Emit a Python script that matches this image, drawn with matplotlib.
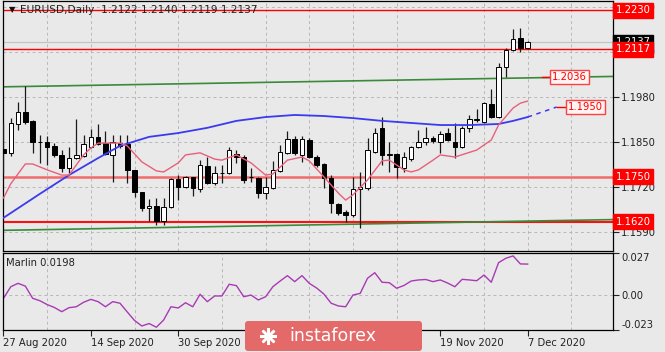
import numpy as np
import pandas as pd
import matplotlib
matplotlib.use("Agg")
import matplotlib.pyplot as plt
from matplotlib.patches import FancyBboxPatch
from matplotlib.transforms import blended_transform_factory

# EURUSD daily bars, 27 Aug - 7 Dec 2020
dates = pd.bdate_range("2020-08-27", "2020-12-07")
opens = [1.1830, 1.1818, 1.1902, 1.1937, 1.1911, 1.1850, 1.1850, 1.1838, 1.1812, 1.1775,
         1.1804, 1.1809, 1.1835, 1.1864, 1.1847, 1.1812, 1.1847, 1.1844, 1.1769, 1.1705,
         1.1659, 1.1665, 1.1624, 1.1662, 1.1743, 1.1720, 1.1749, 1.1714, 1.1780, 1.1731,
         1.1760, 1.1761, 1.1816, 1.1807, 1.1750, 1.1747, 1.1703, 1.1718, 1.1767, 1.1819,
         1.1859, 1.1813, 1.1856, 1.1807, 1.1787, 1.1747, 1.1672, 1.1649, 1.1640, 1.1715,
         1.1718, 1.1821, 1.1891, 1.1813, 1.1816, 1.1775, 1.1801, 1.1836, 1.1850, 1.1862,
         1.1850, 1.1876, 1.1850, 1.1836, 1.1891, 1.1914, 1.1908, 1.1960, 1.1922, 1.2066,
         1.2115, 1.2150, 1.2122]
highs = [1.1905, 1.1919, 1.1965, 1.2012, 1.1914, 1.1870, 1.1867, 1.1847, 1.1827, 1.1835,
         1.1916, 1.1870, 1.1887, 1.1902, 1.1882, 1.1870, 1.1870, 1.1870, 1.1769, 1.1705,
         1.1685, 1.1688, 1.1688, 1.1746, 1.1754, 1.1752, 1.1749, 1.1798, 1.1807, 1.1780,
         1.1783, 1.1836, 1.1827, 1.1813, 1.1775, 1.1750, 1.1750, 1.1796, 1.1842, 1.1882,
         1.1868, 1.1868, 1.1862, 1.1813, 1.1790, 1.1755, 1.1675, 1.1655, 1.1750, 1.1764,
         1.1862, 1.1891, 1.1922, 1.1850, 1.1819, 1.1821, 1.1839, 1.1885, 1.1894, 1.1868,
         1.1882, 1.1891, 1.1905, 1.1896, 1.1928, 1.1945, 1.1965, 1.2003, 1.2078, 1.2121,
         1.2175, 1.2178, 1.2140]
lows = [1.1760, 1.1809, 1.1885, 1.1902, 1.1818, 1.1789, 1.1783, 1.1806, 1.1763, 1.1760,
        1.1801, 1.1806, 1.1832, 1.1841, 1.1812, 1.1734, 1.1833, 1.1731, 1.1691, 1.1653,
        1.1624, 1.1610, 1.1610, 1.1659, 1.1682, 1.1717, 1.1694, 1.1705, 1.1728, 1.1726,
        1.1731, 1.1758, 1.1790, 1.1732, 1.1735, 1.1689, 1.1686, 1.1715, 1.1764, 1.1816,
        1.1813, 1.1793, 1.1804, 1.1778, 1.1718, 1.1646, 1.1640, 1.1620, 1.1634, 1.1603,
        1.1712, 1.1819, 1.1784, 1.1764, 1.1747, 1.1764, 1.1796, 1.1833, 1.1842, 1.1847,
        1.1819, 1.1853, 1.1804, 1.1833, 1.1879, 1.1908, 1.1905, 1.1919, 1.1920, 1.2037,
        1.2112, 1.2109, 1.2119]
closes = [1.1818, 1.1905, 1.1937, 1.1908, 1.1850, 1.1851, 1.1835, 1.1812, 1.1775, 1.1804,
          1.1812, 1.1844, 1.1864, 1.1844, 1.1815, 1.1850, 1.1838, 1.1769, 1.1705, 1.1659,
          1.1665, 1.1624, 1.1662, 1.1743, 1.1720, 1.1749, 1.1717, 1.1783, 1.1731, 1.1760,
          1.1762, 1.1827, 1.1807, 1.1741, 1.1749, 1.1703, 1.1721, 1.1770, 1.1821, 1.1859,
          1.1819, 1.1859, 1.1807, 1.1784, 1.1747, 1.1675, 1.1646, 1.1640, 1.1715, 1.1721,
          1.1827, 1.1876, 1.1813, 1.1816, 1.1778, 1.1807, 1.1836, 1.1850, 1.1862, 1.1853,
          1.1873, 1.1856, 1.1836, 1.1891, 1.1916, 1.1916, 1.1962, 1.1922, 1.2066, 1.2115,
          1.2147, 1.2121, 1.2137]

# slow MA (blue), read at some bars, plus its shifted dashed part
ma_slow_idx = [0, 5, 9, 13, 16, 20, 24, 28, 32, 36, 40, 44, 48, 52, 56, 60, 64, 68, 70, 72]
ma_slow = [1.1632, 1.1701, 1.1755, 1.1804, 1.1839, 1.1865, 1.1876, 1.1891, 1.1911, 1.1922,
           1.1928, 1.1925, 1.1919, 1.1911, 1.1905, 1.1899, 1.1899, 1.1902, 1.1911, 1.1922]
ma_slow_proj_idx = [72, 76]
ma_slow_proj = [1.1922, 1.1951]

# fast MA (pink)
ma_fast_idx = [0, 1, 3, 4, 6, 8, 9, 11, 12, 13, 16, 17, 19, 21, 22, 24, 25, 27, 29, 30,
               32, 34, 36, 37, 39, 41, 42, 44, 46, 47, 48, 50, 52, 53, 55, 56, 57, 59, 60, 62,
               65, 67, 68, 70, 71, 72]
ma_fast = [1.1689, 1.1730, 1.1787, 1.1787, 1.1770, 1.1755, 1.1755, 1.1813, 1.1833, 1.1847,
           1.1847, 1.1839, 1.1793, 1.1767, 1.1764, 1.1790, 1.1813, 1.1819, 1.1801, 1.1798,
           1.1813, 1.1790, 1.1755, 1.1758, 1.1798, 1.1807, 1.1796, 1.1750, 1.1703, 1.1683,
           1.1698, 1.1741, 1.1796, 1.1798, 1.1770, 1.1764, 1.1770, 1.1798, 1.1813, 1.1807,
           1.1827, 1.1856, 1.1899, 1.1948, 1.1962, 1.1968]

# Marlin oscillator
marlin = [-0.0024, 0.0051, 0.0073, 0.0055, -0.0024, -0.0040, -0.0065, -0.0084, -0.0111, -0.0085,
          -0.0079, -0.0050, -0.0031, -0.0046, -0.0079, -0.0046, -0.0056, -0.0113, -0.0168, -0.0204,
          -0.0188, -0.0212, -0.0165, -0.0079, -0.0087, -0.0053, -0.0079, 0.0002, -0.0046, -0.0009,
          -0.0009, 0.0067, 0.0058, -0.0014, -0.0003, -0.0035, -0.0014, 0.0051, 0.0088, 0.0123,
          0.0084, 0.0123, 0.0073, 0.0043, 0.0004, -0.0056, -0.0074, -0.0079, -0.0003, 0.0008,
          0.0106, 0.0142, 0.0080, 0.0077, 0.0041, 0.0059, 0.0088, 0.0095, 0.0098, 0.0084,
          0.0095, 0.0075, 0.0051, 0.0099, 0.0095, 0.0090, 0.0127, 0.0080, 0.0207, 0.0236,
          0.0251, 0.0199, 0.0198]

# drawn levels / trend lines
red_levels = [1.2230, 1.2117, 1.1620]
pink_level = 1.1750
bid = 1.2137
trend_x = [0, 84]
trend_top = [1.2009, 1.2039]
trend_bot = [1.1596, 1.1627]
price_ticks = [1.1590, 1.1720, 1.1850, 1.1980, 1.2110, 1.2240]
osc_ticks = [-0.023, 0.0, 0.027]

BG = "#e9e9e9"
plt.rcParams["font.family"] = "DejaVu Sans"
plt.rcParams["font.size"] = 7.2

W, H = 665, 352
fig = plt.figure(figsize=(W / 100, H / 100), dpi=100, facecolor=BG)


def box(x0, y0, x1, y1):
    return [x0 / W, 1 - y1 / H, (x1 - x0) / W, (y1 - y0) / H]


ax = fig.add_axes(box(2.5, 1, 613, 251), facecolor=BG)
ax2 = fig.add_axes(box(2.5, 253, 613, 330), facecolor=BG)
xlim = (-0.137, 83.72)

o = np.array(opens)
h = np.array(highs)
l = np.array(lows)
c = np.array(closes)
x = np.arange(len(dates))
up = c > o

# candles
ax.vlines(x, l, h, color="#1a1a1a", lw=0.9, zorder=3)
ax.bar(x[up], (c - o)[up], bottom=o[up], width=0.62, color="white",
       edgecolor="black", lw=0.7, zorder=4)
ax.bar(x[~up], (c - o)[~up], bottom=o[~up], width=0.62, color="black",
       edgecolor="black", lw=0.7, zorder=4)

# levels
ax.axhline(bid, color="#c4c4c4", lw=0.9, zorder=1)
ax.axhline(red_levels[0], color="#ff0000", lw=1.0, zorder=2)
ax.axhline(red_levels[1], color="#ff0000", lw=1.0, zorder=2)
ax.axhline(red_levels[2], color="#ff1010", lw=1.5, zorder=2)
ax.axhline(pink_level, color="#f26b6b", lw=1.8, zorder=2)
ax.plot(trend_x, trend_top, color="#3a8a3a", lw=1.2, zorder=2)
ax.plot(trend_x, trend_bot, color="#3a8a3a", lw=1.2, zorder=2)

# moving averages
ax.plot(ma_slow_idx, ma_slow, color="#3a3af0", lw=1.3, zorder=5)
ax.plot(ma_slow_proj_idx, ma_slow_proj, color="#3a3af0", lw=1.1, ls=(0, (3, 3)), zorder=5)
ax.plot(ma_fast_idx, ma_fast, color="#e8607a", lw=1.0, zorder=5)

# in-chart value labels
ax.plot([74, 75.2], [trend_top[0] + 0.0027] * 2, color="red", lw=1, zorder=6)
ax.text(75.35, 1.2036, "1.2036", color="red", ha="left", va="center", zorder=7,
        bbox=dict(boxstyle="square,pad=0.2", fc="#fff4f4", ec="#ff4040", lw=1))
ax.plot([76, 77.4], [ma_slow_proj[1]] * 2, color="red", lw=1, zorder=6)
ax.text(77.55, 1.1950, "1.1950", color="red", ha="left", va="center", zorder=7,
        bbox=dict(boxstyle="square,pad=0.2", fc="#fff4f4", ec="#ff4040", lw=1))

ax.set_xlim(*xlim)
ax.set_ylim(1.15365, 1.2256)
ax.yaxis.tick_right()
ax.set_yticks(price_ticks)
ax.set_yticklabels(["%.4f" % v for v in price_ticks])
ax.tick_params(axis="y", direction="out", length=4, width=0.8, pad=2, colors="#222222")
ax.tick_params(axis="x", length=0, labelbottom=False)
ax.set_xticks(range(0, 84, 6), minor=True)
ax.tick_params(which="minor", length=0)
ax.grid(True, which="major", axis="y", ls=(0, (3, 3)), color="#b8b8b8", lw=0.7)
ax.grid(True, which="minor", axis="x", ls=(0, (3, 3)), color="#b8b8b8", lw=0.7)
ax.set_axisbelow(True)

# right-axis price boxes
tr = blended_transform_factory(ax.transAxes, ax.transData)
for val, fc in [(1.2230, "#ff0000"), (1.2137, "#000000"), (1.2117, "#ff0000"),
                (1.1750, "#ff0000"), (1.1620, "#ff0000")]:
    ax.text(1.004, val, "%.4f" % val, transform=tr, color="white", ha="left",
            va="center", zorder=8, clip_on=False,
            bbox=dict(boxstyle="square,pad=0.25", fc=fc, ec=fc))

# oscillator panel
ax2.plot(x, marlin, color="#a83ab4", lw=1.0)
ax2.set_xlim(*xlim)
ax2.set_ylim(-0.0230, 0.0270)
ax2.yaxis.tick_right()
ax2.set_yticks(osc_ticks)
ax2.set_yticklabels(["-0.023", "0.00", "0.027"])
labs = ax2.get_yticklabels()
labs[0].set_va("bottom")
labs[2].set_va("top")
ax2.tick_params(axis="y", direction="out", length=4, width=0.8, pad=2, colors="#222222")
lab_idx = list(range(0, len(dates), 12))
ax2.set_xticks(lab_idx)
ax2.set_xticklabels(["%d %s" % (dates[i].day, dates[i].strftime("%b %Y")) for i in lab_idx],
                    ha="left")
ax2.tick_params(axis="x", direction="out", length=4, width=0.8, pad=2, colors="#222222")
ax2.set_xticks(range(0, 84, 6), minor=True)
ax2.tick_params(which="minor", length=0)
ax2.grid(True, which="minor", axis="x", ls=(0, (3, 3)), color="#b8b8b8", lw=0.7)
ax2.axhline(0, ls=(0, (3, 3)), color="#b8b8b8", lw=0.7, zorder=0)
ax2.set_axisbelow(True)
ax2.text(0.006, 0.87, "Marlin 0.0198", transform=ax2.transAxes, color="#222222",
         ha="left", va="center")

for a in (ax, ax2):
    for s in a.spines.values():
        s.set_color("black")
        s.set_linewidth(0.9)

# overlay in pixel coordinates: title and logo
ov = fig.add_axes([0, 0, 1, 1], facecolor="none", zorder=10)
ov.set_xlim(0, W)
ov.set_ylim(H, 0)
ov.axis("off")
ov.text(9, 10, "\u25bc", fontsize=6, ha="left", va="center", color="#111111")
ov.text(20, 10, "EURUSD,Daily  1.2122 1.2140 1.2119 1.2137", fontsize=7.6,
        ha="left", va="center", color="#222222")
ov.add_patch(FancyBboxPatch((245, 321), 177, 30, boxstyle="round,pad=0,rounding_size=3",
                            fc="#e46a6a", ec="none"))
ov.plot(268, 336, marker=(8, 2, 0), ms=12, mec="white", mew=1.8)
ov.text(289, 336, "instaforex", fontsize=12.5, color="white", ha="left", va="center")

fig.savefig("out.png", dpi=100, facecolor=BG)
